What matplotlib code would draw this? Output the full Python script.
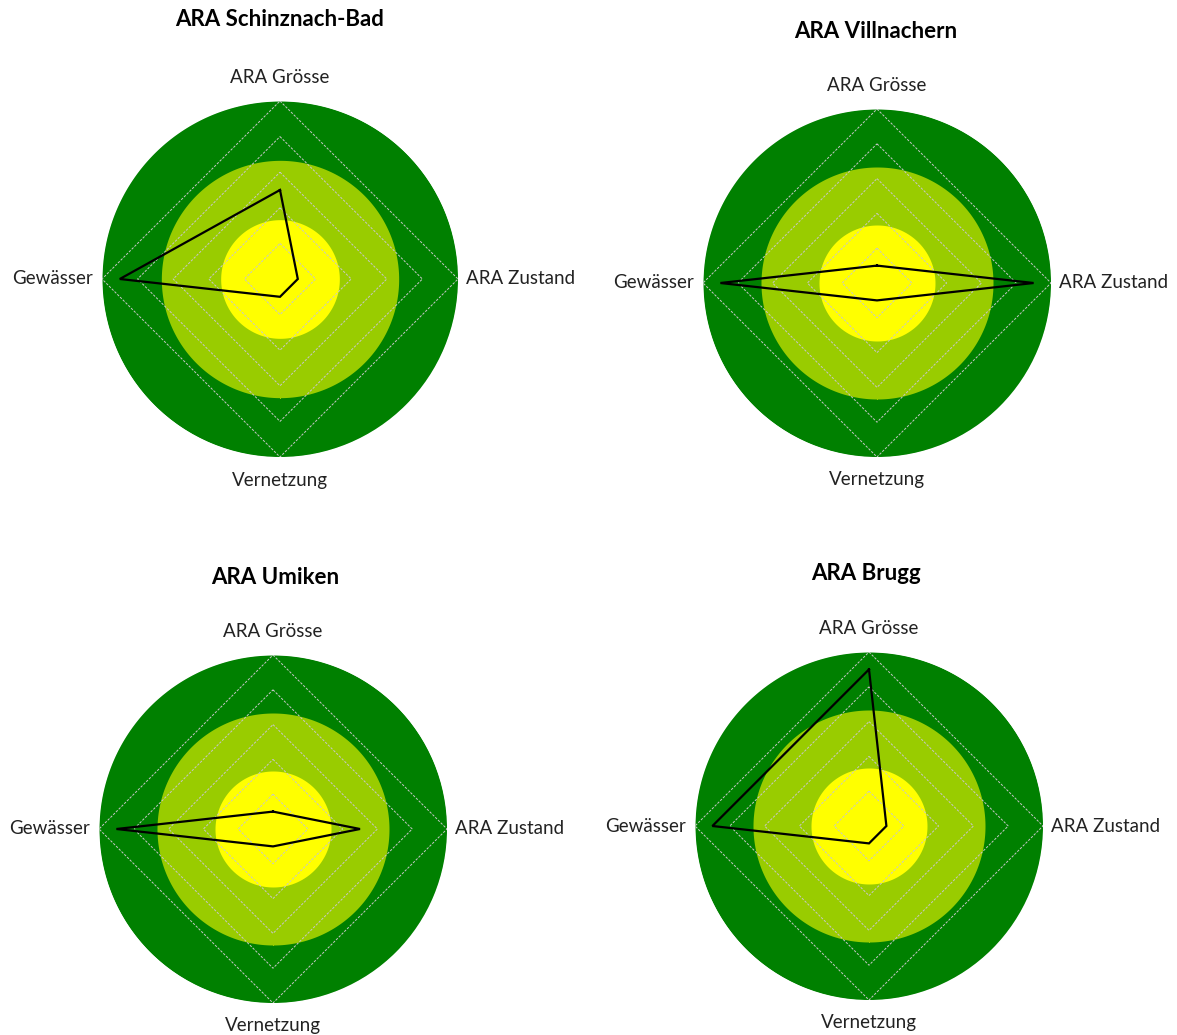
import numpy as np
import matplotlib
matplotlib.use("Agg")
import matplotlib.pyplot as plt

# ---- data ----
categories = ["ARA Grösse", "ARA Zustand", "Vernetzung", "Gewässer"]
plants = ["ARA Schinznach-Bad", "ARA Villnachern", "ARA Umiken", "ARA Brugg"]
schinznach = [2.5, 0.5, 0.5, 4.5]
villnachern = [0.5, 4.5, 0.5, 4.5]
umiken = [0.5, 2.5, 0.5, 4.5]
brugg = [4.5, 0.5, 0.5, 4.5]
grid_levels = [1, 2, 3, 4, 5]
zone_bounds = [5 / 3, 10 / 3, 5]
zone_colors = ["#FFFF00", "#99CC00", "#008000"]

series = [schinznach, villnachern, umiken, brugg]

W, H = 1177, 1035
fig = plt.figure(figsize=(W / 100, H / 100), dpi=100)
fig.patch.set_facecolor("white")

# panel placement (pixels): center x, center y (from top), radius
panels = [(280, 279, 178), (877, 283, 174), (273, 829, 174), (869, 826, 174)]
title_pos = [(280, 20), (876, 31), (275, 578), (866, 574)]

FONT = "Lato"
theta = np.deg2rad([0, 90, 180, 270])  # clockwise from north

for i, (vals, (cx, cy, r)) in enumerate(zip(series, panels)):
    ax = fig.add_axes([(cx - r) / W, (H - cy - r) / H, 2 * r / W, 2 * r / H],
                      projection="polar")
    ax.set_theta_zero_location("N")
    ax.set_theta_direction(-1)
    ax.set_ylim(0, 5)
    ax.set_facecolor("none")
    ax.spines["polar"].set_visible(False)
    ax.grid(False)
    ax.set_xticks([])
    ax.set_yticks([])

    tt = np.linspace(0, 2 * np.pi, 400)
    # zones drawn from outer to inner
    for b, c in zip(zone_bounds[::-1], zone_colors[::-1]):
        ax.fill_between(tt, 0, b, color=c, linewidth=0, zorder=1)

    # diamond gridlines
    th_closed = np.append(theta, theta[0])
    for lv in grid_levels:
        ax.plot(th_closed, [lv] * 5, color="#C8C8C8", lw=0.7,
                ls=(0, (2.5, 1.5)), zorder=2)

    v = list(vals) + [vals[0]]
    ax.plot(th_closed, v, color="black", lw=1.6, zorder=3,
            solid_joinstyle="miter")

    fs = 13.5
    ax.text(theta[0], 5.67, categories[0], ha="center", va="center",
            fontsize=fs, family=FONT, color="#222222")
    ax.text(theta[1], 5.22, categories[1], ha="left", va="center",
            fontsize=fs, family=FONT, color="#222222")
    ax.text(theta[2], 5.65, categories[2], ha="center", va="center",
            fontsize=fs, family=FONT, color="#222222")
    ax.text(theta[3], 5.25, categories[3], ha="right", va="center",
            fontsize=fs, family=FONT, color="#222222")

    tx, ty = title_pos[i]
    fig.text(tx / W, 1 - ty / H, plants[i], ha="center", va="center",
             fontsize=16, fontweight="bold", family=FONT, color="black")

fig.savefig("out.png", dpi=100)
